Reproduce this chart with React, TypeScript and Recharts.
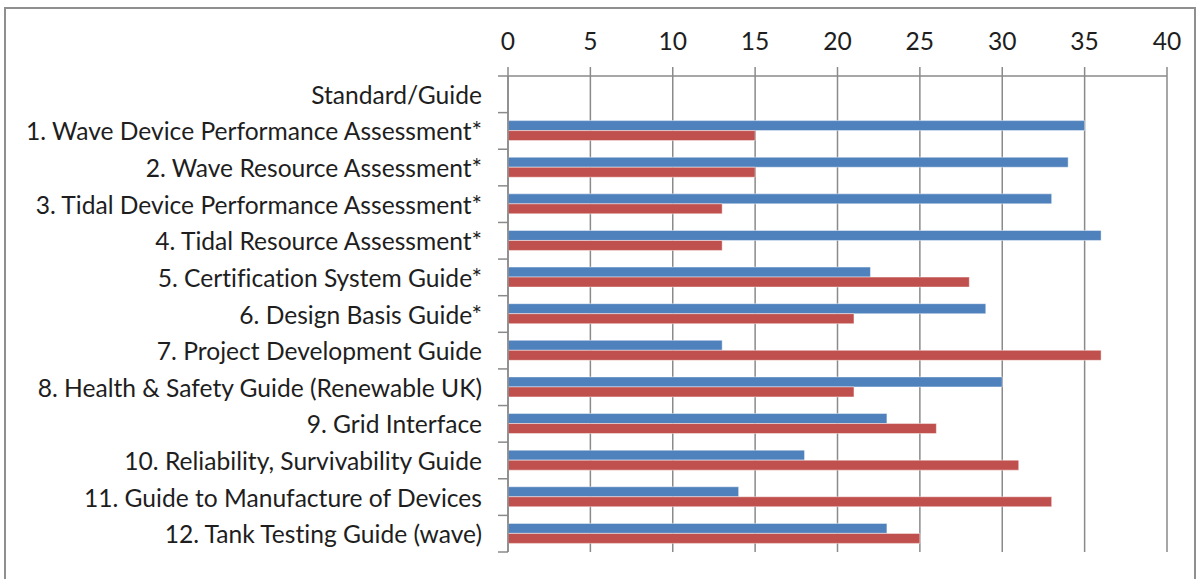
import React from 'react';
import { BarChart, Bar, XAxis, YAxis, CartesianGrid } from 'recharts';

// Categories top to bottom, first row is the header row from the sheet
const categories = [
  'Standard/Guide',
  '1. Wave Device Performance Assessment*',
  '2. Wave Resource Assessment*',
  '3. Tidal Device Performance Assessment*',
  '4. Tidal Resource Assessment*',
  '5. Certification System Guide*',
  '6. Design Basis Guide*',
  '7. Project Development Guide',
  '8. Health & Safety Guide (Renewable UK)',
  '9. Grid Interface',
  '10. Reliability, Survivability Guide',
  '11. Guide to Manufacture of Devices',
  '12. Tank Testing Guide (wave)',
];

const blueValues = [null, 35, 34, 33, 36, 22, 29, 13, 30, 23, 18, 14, 23];
const redValues = [null, 15, 15, 13, 13, 28, 21, 36, 21, 26, 31, 33, 25];

const xTicks = [0, 5, 10, 15, 20, 25, 30, 35, 40];

const data = categories.map((name, i) => ({
  name,
  blue: blueValues[i],
  red: redValues[i],
}));

const W = 1203;
const H = 579;
const AXIS_X = 508;
const PLOT_TOP = 76;
const PLOT_BOTTOM = 552;
const BAND = (PLOT_BOTTOM - PLOT_TOP) / categories.length;
const GRID = '#8a8a8a';
const FONT = 'Lato, "Noto Sans", sans-serif';
const FONT_SIZE = 24.6;
const TEXT = '#1e1e1e';

const YTick = (props: any) => {
  const { y, payload, index } = props;
  const last = index === categories.length - 1;
  return (
    <g>
      <text
        x={AXIS_X - 26}
        y={y}
        textAnchor="end"
        dominantBaseline="central"
        fontFamily={FONT}
        fontSize={FONT_SIZE}
        fill={TEXT}
        style={{ fontVariantLigatures: 'none' }}
      >
        {payload.value}
      </text>
      <line x1={AXIS_X - 10} x2={AXIS_X} y1={y - BAND / 2} y2={y - BAND / 2} stroke={GRID} strokeWidth={1.5} />
      {last && (
        <line x1={AXIS_X - 10} x2={AXIS_X} y1={y + BAND / 2} y2={y + BAND / 2} stroke={GRID} strokeWidth={1.5} />
      )}
    </g>
  );
};

export default function App() {
  return (
    <div style={{ position: 'absolute', left: 0, top: 0, width: W, height: H, overflow: 'hidden', background: '#fff' }}>
      <div
        style={{
          position: 'absolute',
          left: 4,
          top: 7,
          width: 1192,
          height: 600,
          border: '2px solid #8f8f8f',
          boxSizing: 'border-box',
        }}
      />
      <div style={{ position: 'absolute', left: 0, top: 0 }}>
        <BarChart
          width={W}
          height={H}
          data={data}
          layout="vertical"
          margin={{ top: PLOT_TOP - 30, right: W - 1167, bottom: H - PLOT_BOTTOM, left: 0 }}
          barGap={0}
          barSize={10}
        >
          <CartesianGrid horizontal={false} stroke={GRID} strokeWidth={1.5} />
          <XAxis
            type="number"
            orientation="top"
            domain={[0, 40]}
            ticks={xTicks}
            height={30}
            interval={0}
            tickSize={9}
            tickMargin={17}
            stroke={GRID}
            strokeWidth={1.5}
            tick={{ fontFamily: FONT, fontSize: FONT_SIZE, fill: TEXT }}
          />
          <YAxis
            type="category"
            dataKey="name"
            width={AXIS_X}
            interval={0}
            tickLine={false}
            stroke={GRID}
            strokeWidth={1.5}
            tick={<YTick />}
          />
          <Bar dataKey="blue" fill="#4F81BD" stroke="#ffffff" strokeOpacity={0.45} strokeWidth={1} isAnimationActive={false} />
          <Bar dataKey="red" fill="#C0504D" stroke="#ffffff" strokeOpacity={0.45} strokeWidth={1} isAnimationActive={false} />
        </BarChart>
      </div>
    </div>
  );
}
